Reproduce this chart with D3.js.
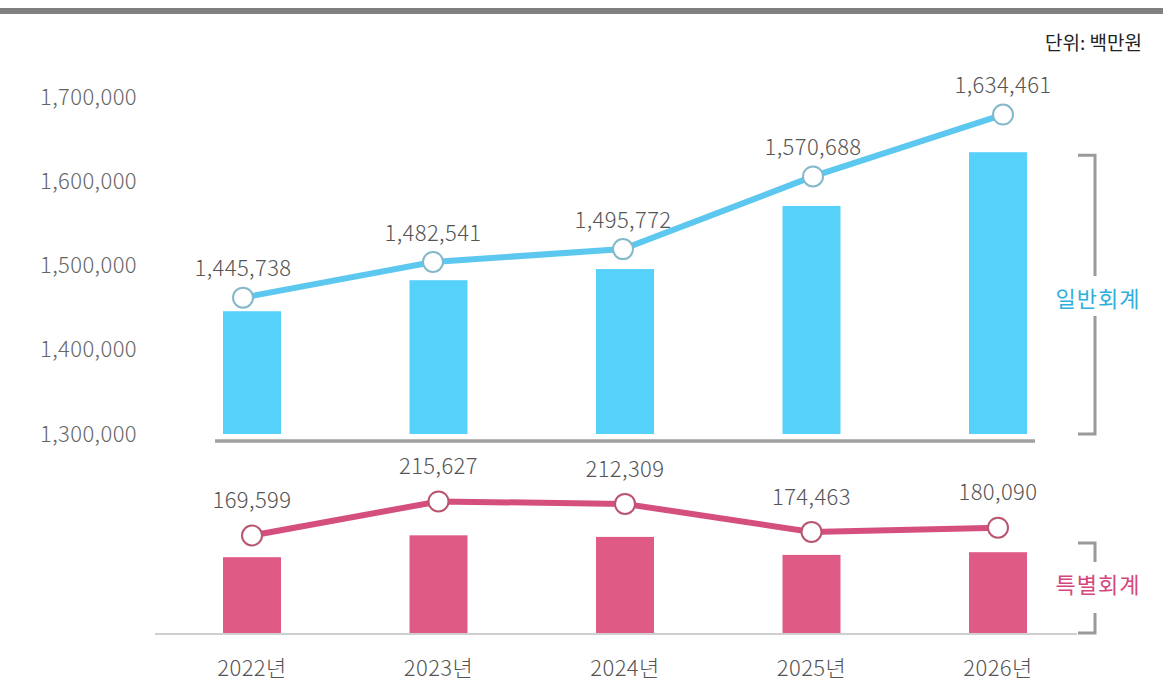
<!DOCTYPE html>
<html>
<head>
<meta charset="utf-8">
<script src="https://cdn.jsdelivr.net/npm/d3@7"></script>
<style>
  body { margin: 0; background: #fff; }
  svg text { font-family: "Noto Sans CJK KR", "Noto Sans", sans-serif; }
</style>
</head>
<body>
<svg id="chart" width="1163" height="689"></svg>
<script>
// data (단위: 백만원)
const years = ["2022년", "2023년", "2024년", "2025년", "2026년"];
const general = [1445738, 1482541, 1495772, 1570688, 1634461];
const special = [169599, 215627, 212309, 174463, 180090];
const yTicks = [1300000, 1400000, 1500000, 1600000, 1700000];

const W = 1163, H = 689;
const fmt = d3.format(",");
const numSize = 22, numSpacing = 0.4;

const svg = d3.select("#chart");

// top gray rule
svg.append("rect").attr("x", 0).attr("y", 8).attr("width", W).attr("height", 6).attr("fill", "#808080");

svg.append("text")
  .attr("x", 1142).attr("y", 43).attr("dy", "0.35em")
  .attr("text-anchor", "end")
  .attr("font-size", 19).attr("font-weight", 400).attr("fill", "#222")
  .text("단위: 백만원");

// scales
const xBar = d3.scalePoint().domain(years).range([252, 998]);
const xLineTop = d3.scalePoint().domain(years).range([243, 1003]);
const barW = 58;

const yTopBar = d3.scaleLinear().domain([1300000, 1700000]).range([434, 97]);
const yTopLine = d3.scaleLinear().domain([1300000, 1700000]).range([439, 51]);
const yBotBar = d3.scaleLinear().domain([10000, 250000]).range([633, 519]);
const yBotLine = d3.scaleLinear().domain([100000, 250000]).range([587, 476]);

const topData = years.map((y, i) => ({year: y, v: general[i]}));
const botData = years.map((y, i) => ({year: y, v: special[i]}));

// y axis labels
svg.append("g")
  .selectAll("text")
  .data(yTicks)
  .enter()
  .append("text")
  .attr("x", 137)
  .attr("y", d => yTopBar(d))
  .attr("dy", "0.35em")
  .attr("text-anchor", "end")
  .attr("font-size", numSize).attr("font-weight", 300).attr("fill", "#666")
  .attr("letter-spacing", numSpacing)
  .text(d => fmt(d));

// ---- top section: 일반회계 ----
svg.append("g")
  .selectAll("rect")
  .data(topData)
  .enter()
  .append("rect")
  .attr("x", d => xBar(d.year) - barW / 2)
  .attr("y", d => yTopBar(d.v))
  .attr("width", barW)
  .attr("height", d => yTopBar(1300000) - yTopBar(d.v))
  .attr("fill", "#56d1f9");

svg.append("line")
  .attr("x1", 215).attr("x2", 1035)
  .attr("y1", yTopBar(1300000) + 7).attr("y2", yTopBar(1300000) + 7)
  .attr("stroke", "#a0a0a0").attr("stroke-width", 3.5);

svg.append("path")
  .datum(topData)
  .attr("fill", "none")
  .attr("stroke", "#5cc8ef")
  .attr("stroke-width", 6)
  .attr("d", d3.line().x(d => xLineTop(d.year)).y(d => yTopLine(d.v)));

svg.append("g")
  .selectAll("circle")
  .data(topData)
  .enter()
  .append("circle")
  .attr("cx", d => xLineTop(d.year))
  .attr("cy", d => yTopLine(d.v))
  .attr("r", 10)
  .attr("fill", "#fff")
  .attr("stroke", "#84b8ca").attr("stroke-width", 2);

svg.append("g")
  .selectAll("text")
  .data(topData)
  .enter()
  .append("text")
  .attr("x", d => xLineTop(d.year))
  .attr("y", d => yTopLine(d.v) - 29)
  .attr("dy", "0.35em")
  .attr("text-anchor", "middle")
  .attr("font-size", numSize).attr("font-weight", 300).attr("fill", "#555")
  .attr("letter-spacing", numSpacing)
  .text(d => fmt(d.v));

// ---- bottom section: 특별회계 ----
svg.append("line")
  .attr("x1", 155).attr("x2", 1077)
  .attr("y1", yBotBar(10000) + 1).attr("y2", yBotBar(10000) + 1)
  .attr("stroke", "#cfcfcf").attr("stroke-width", 2);

svg.append("g")
  .selectAll("rect")
  .data(botData)
  .enter()
  .append("rect")
  .attr("x", d => xBar(d.year) - barW / 2)
  .attr("y", d => yBotBar(d.v))
  .attr("width", barW)
  .attr("height", d => yBotBar(10000) - yBotBar(d.v))
  .attr("fill", "#e05a86");

svg.append("path")
  .datum(botData)
  .attr("fill", "none")
  .attr("stroke", "#d54f7e")
  .attr("stroke-width", 6)
  .attr("d", d3.line().x(d => xBar(d.year)).y(d => yBotLine(d.v)));

svg.append("g")
  .selectAll("circle")
  .data(botData)
  .enter()
  .append("circle")
  .attr("cx", d => xBar(d.year))
  .attr("cy", d => yBotLine(d.v))
  .attr("r", 10)
  .attr("fill", "#fff")
  .attr("stroke", "#b9566f").attr("stroke-width", 2);

svg.append("g")
  .selectAll("text")
  .data(botData)
  .enter()
  .append("text")
  .attr("x", d => xBar(d.year))
  .attr("y", d => yBotLine(d.v) - 35)
  .attr("dy", "0.35em")
  .attr("text-anchor", "middle")
  .attr("font-size", numSize).attr("font-weight", 300).attr("fill", "#555")
  .attr("letter-spacing", numSpacing)
  .text(d => fmt(d.v));

// x labels
svg.append("g")
  .selectAll("text")
  .data(years)
  .enter()
  .append("text")
  .attr("x", d => xBar(d))
  .attr("y", 668)
  .attr("dy", "0.35em")
  .attr("text-anchor", "middle")
  .attr("font-size", numSize).attr("font-weight", 300).attr("fill", "#555")
  .attr("letter-spacing", numSpacing)
  .text(d => d);

// brackets with series names
function bracket(top, bottom, gapTop, gapBottom, label, color, labelY) {
  const bx = 1095, tx = 1078;
  const g = svg.append("g").attr("fill", "none").attr("stroke", "#9a9a9a").attr("stroke-width", 3);
  g.append("path").attr("d", `M${tx},${top}H${bx}V${gapTop}`);
  g.append("path").attr("d", `M${bx},${gapBottom}V${bottom}H${tx}`);
  svg.append("text")
    .attr("x", 1098).attr("y", labelY).attr("dy", "0.35em")
    .attr("text-anchor", "middle")
    .attr("font-size", 22).attr("letter-spacing", 1).attr("fill", color)
    .text(label);
}

const topBr = yTopBar(d3.max(general)) + 3;
const topBase = yTopBar(1300000);
bracket(topBr, topBase, 276, 316, "일반회계", "#2fb0dc", 299);
bracket(543, yBotBar(10000), 562, 613, "특별회계", "#d4477c", 585);
</script>
</body>
</html>
